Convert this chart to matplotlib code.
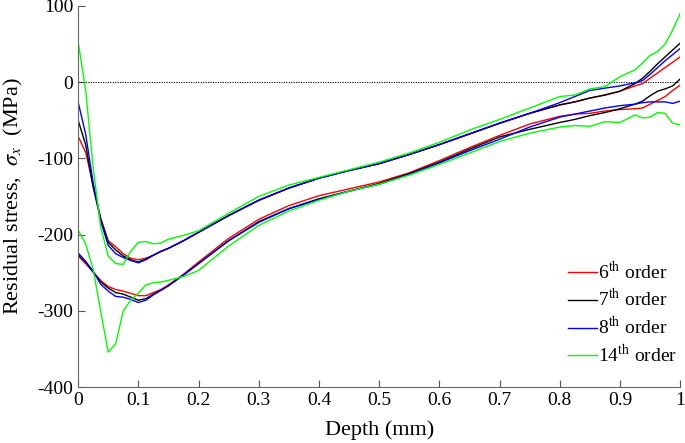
import matplotlib
matplotlib.use("Agg")
import matplotlib.pyplot as plt

plt.rcParams["font.family"] = ["Liberation Serif", "DejaVu Serif"]
plt.rcParams["mathtext.fontset"] = "stix"
plt.rcParams["axes.unicode_minus"] = False

# depth grid (mm)
depth = [0, 0.0125, 0.025, 0.0375, 0.05, 0.0625, 0.075, 0.0875, 0.1, 0.1125,
         0.125, 0.1375, 0.15, 0.175, 0.2, 0.25, 0.3, 0.35, 0.4, 0.45,
         0.5, 0.55, 0.6, 0.65, 0.7, 0.75, 0.8, 0.825, 0.85, 0.875,
         0.9, 0.925, 0.9375, 0.95, 0.9625, 0.975, 0.9875, 1.0]

# upper set of curves (MPa)
up_6 = [-71, -92, -135, -178, -208, -216, -225, -231, -233, -231,
        -227, -222, -218, -208, -197, -175, -155, -139, -126, -116,
        -107, -95, -82, -68, -54, -41, -30, -26, -21, -17,
        -12, -5, -2, 5, 12, 19, 26, 33]
up_7 = [-50, -82, -138, -180, -210, -220, -228, -233, -236, -232,
        -227, -222, -218, -208, -197, -175, -155, -139, -126, -116,
        -107, -95, -82, -68, -54, -41, -30, -26, -21, -17,
        -12, -2, 5, 14, 24, 33, 42, 51]
up_8 = [-26, -68, -132, -182, -214, -225, -230, -234, -237, -233,
        -227, -222, -218, -208, -197, -175, -155, -139, -126, -116,
        -107, -95, -82, -68, -54, -41, -27, -19, -11, -8,
        -5, -1, 2, 10, 19, 28, 36, 44]
up_14 = [53, -10, -112, -190, -228, -238, -239, -222, -210, -209,
         -212, -211, -206, -201, -195, -172, -150, -135, -125, -115,
         -105, -93, -79, -63, -49, -34, -19, -17, -9, -6,
         7, 16, 25, 35, 40, 50, 68, 90]

# lower set of curves (MPa)
lo_6 = [-228, -238, -249, -260, -268, -272, -274, -277, -280, -280,
        -276, -272, -266, -252, -236, -205, -180, -162, -149, -140,
        -131, -119, -103, -86, -70, -55, -45, -42, -41, -38,
        -36, -35, -34, -29, -24, -19, -11, -4]
lo_7 = [-226, -236, -249, -262, -270, -276, -278, -282, -286, -284,
        -278, -273, -267, -253, -238, -208, -183, -166, -153, -143,
        -133, -120, -105, -88, -72, -62, -53, -49, -44, -40,
        -35, -29, -25, -18, -12, -9, -5, 4]
lo_8 = [-224, -235, -248, -265, -274, -281, -282, -285, -289, -286,
        -279, -273, -267, -253, -238, -208, -184, -166, -154, -143,
        -134, -121, -106, -90, -75, -59, -46, -42, -38, -34,
        -31, -29, -27, -26, -26, -26, -28, -25]
lo_14 = [-194, -212, -245, -300, -354, -343, -300, -286, -277, -266,
         -263, -262, -260, -255, -247, -215, -188, -169, -155, -143,
         -134, -122, -108, -93, -78, -67, -59, -57, -58, -52,
         -53, -43, -47, -46, -40, -41, -54, -56]

labels = ["6$^{\\rm th}$ order", "7$^{\\rm th}$ order",
          "8$^{\\rm th}$ order", "14$^{\\rm th}$ order"]
colors = ["#ff0000", "#000000", "#0000ff", "#00ff00"]

fig = plt.figure(figsize=(6.85, 4.43), dpi=100)
ax = fig.add_axes([0.114, 0.126, 0.879, 0.861])

ax.axhline(0, color="black", linestyle=(0, (1, 1.2)), linewidth=0.8)

uppers = [up_6, up_7, up_8, up_14]
lowers = [lo_6, lo_7, lo_8, lo_14]
for up, lo, c, lab in zip(uppers, lowers, colors, labels):
    ax.plot(depth, up, color=c, linewidth=1.0, label=lab)
    ax.plot(depth, lo, color=c, linewidth=1.0)

ax.set_xlim(0, 1)
ax.set_ylim(-400, 100)
ax.set_xticks([i / 10 for i in range(11)])
ax.set_xticklabels(["0", "0.1", "0.2", "0.3", "0.4", "0.5", "0.6", "0.7", "0.8", "0.9", "1"])
ax.set_yticks([-400, -300, -200, -100, 0, 100])
ax.tick_params(direction="in", labelsize=14, length=5, color="#555555", width=0.8)
for side in ["top", "right"]:
    ax.spines[side].set_visible(False)
for side in ["left", "bottom"]:
    ax.spines[side].set_color("#666666")
    ax.spines[side].set_linewidth(0.8)

ax.set_xlabel("Depth (mm)", fontsize=16, labelpad=8)
ax.set_ylabel("Residual stress,  $\\sigma_{x}$  (MPa)", fontsize=16, labelpad=9)

ax.legend(loc="lower right", bbox_to_anchor=(1.015, 0.025), frameon=False,
          fontsize=14, handlelength=1.45, handletextpad=0.1, labelspacing=0.28,
          borderaxespad=0.2)

fig.savefig("out.png", dpi=100)
